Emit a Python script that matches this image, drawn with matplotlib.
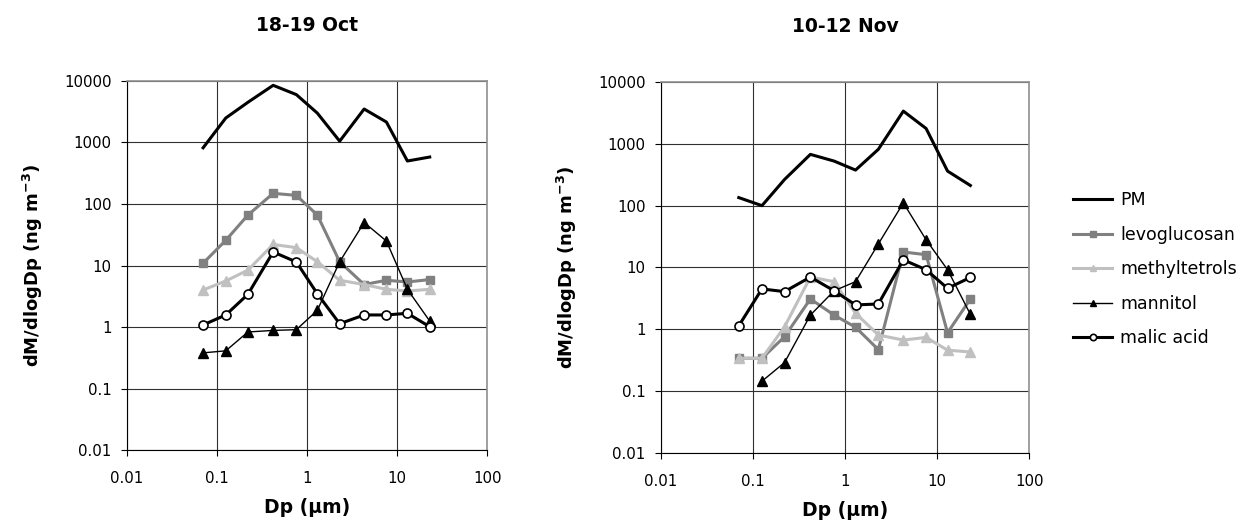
import numpy as np
import matplotlib
matplotlib.use("Agg")
import matplotlib.pyplot as plt
from matplotlib.ticker import FixedLocator, FixedFormatter, NullLocator

plt.rcParams['font.family'] = ['DejaVu Sans']
plt.rcParams['mathtext.fontset'] = 'custom'
plt.rcParams['mathtext.rm'] = 'DejaVu Sans'
plt.rcParams['mathtext.bf'] = 'DejaVu Sans:bold'

# impactor stage midpoints (um)
dp = [0.07, 0.125, 0.22, 0.42, 0.76, 1.3, 2.3, 4.3, 7.6, 13, 23]

# 18-19 Oct
oct_pm = [820, 2500, 4500, 8500, 6000, 3000, 1050, 3500, 2150, 500, 580]
oct_levo = [10.9, 25.7, 66, 149, 138, 66, 11.5, 4.9, 5.75, 5.4, 5.9]
oct_meth = [4.0, 5.6, 8.4, 22, 19.5, 11.5, 5.75, 4.9, 4.1, 3.85, 4.1]
oct_mann = [0.38, 0.41, 0.83, 0.88, 0.905, 1.87, 11.5, 50, 25, 4.1, 1.25]
oct_malic = [1.08, 1.57, 3.4, 16.6, 11.4, 3.47, 1.13, 1.57, 1.57, 1.67, 1.01]

# 10-12 Nov
nov_pm = [135, 100, 265, 675, 526, 376, 815, 3380, 1770, 362, 212]
nov_levo = [0.34, 0.34, 0.76, 3.1, 1.7, 1.08, 0.47, 17.8, 16.1, 0.88, 3.1]
nov_meth = [0.34, 0.34, 1.1, 7.0, 5.9, 1.82, 0.81, 0.67, 0.74, 0.46, 0.43]
nov_mann = [np.nan, 0.145, 0.29, 1.7, 4.2, 5.9, 24, 111, 28, 9.2, 1.75]
nov_malic = [1.14, 4.5, 4.07, 7.0, 4.2, 2.48, 2.57, 13.3, 9.2, 4.6, 6.9]

series_names = ["PM", "levoglucosan", "methyltetrols", "mannitol", "malic acid"]
x_ticks = [0.01, 0.1, 1, 10, 100]
x_labels = ["0.01", "0.1", "1", "10", "100"]
y_ticks = [0.01, 0.1, 1, 10, 100, 1000, 10000]
y_labels = ["0.01", "0.1", "1", "10", "100", "1000", "10000"]

styles = [
    dict(color='black', lw=2.2),
    dict(color='#808080', lw=2.2, marker='s', ms=5.5, mfc='#808080', mec='#808080'),
    dict(color='#c0c0c0', lw=2.2, marker='^', ms=6.5, mfc='#c0c0c0', mec='#c0c0c0'),
    dict(color='black', lw=1.0, marker='^', ms=7, mfc='black', mec='black'),
    dict(color='black', lw=2.2, marker='o', ms=6.5, mfc='white', mec='black', mew=1.2),
]

fig = plt.figure(figsize=(12.55, 5.31), dpi=100)
ax1 = fig.add_axes([0.1012, 0.1525, 0.2870, 0.6950])
ax2 = fig.add_axes([0.5267, 0.1469, 0.2933, 0.6987])

panels = [
    (ax1, "18-19 Oct", [oct_pm, oct_levo, oct_meth, oct_mann, oct_malic]),
    (ax2, "10-12 Nov", [nov_pm, nov_levo, nov_meth, nov_mann, nov_malic]),
]

for ax, title, data in panels:
    ax.set_xscale('log')
    ax.set_yscale('log')
    ax.set_xlim(0.01, 100)
    ax.set_ylim(0.01, 10000)
    for vals, name, st in zip(data, series_names, styles):
        ax.plot(dp, vals, label=name, zorder=3, **st)
    ax.xaxis.set_major_locator(FixedLocator(x_ticks))
    ax.xaxis.set_major_formatter(FixedFormatter(x_labels))
    ax.xaxis.set_minor_locator(NullLocator())
    ax.yaxis.set_major_locator(FixedLocator(y_ticks))
    ax.yaxis.set_major_formatter(FixedFormatter(y_labels))
    ax.yaxis.set_minor_locator(NullLocator())
    ax.grid(True, which='major', color='#303030', lw=0.8)
    ax.tick_params(direction='out', length=4, width=0.8, labelsize=10.8)
    ax.tick_params(axis='x', pad=11)
    ax.tick_params(axis='y', pad=7)
    for side in ['top', 'right']:
        ax.spines[side].set_color('#909090')
        ax.spines[side].set_linewidth(1.2)
    for side in ['left', 'bottom']:
        ax.spines[side].set_linewidth(0.8)
    ax.set_title(title, fontsize=13.5, fontweight='bold', pad=36)
    ax.set_xlabel("Dp (μm)", fontsize=13.5, fontweight='bold', labelpad=9)
    ax.set_ylabel("dM/dlogDp (ng m$^{\\mathbf{-3}}$)", fontsize=13, fontweight='bold', labelpad=14)

handles, labels = ax1.get_legend_handles_labels()
fig.legend(handles, labels, loc='center left', bbox_to_anchor=(0.855, 0.493),
           frameon=False, fontsize=12.5, handlelength=2.25, handletextpad=0.45,
           labelspacing=0.95, markerscale=0.7, borderpad=0, borderaxespad=0)

fig.savefig("out.png", dpi=100)
